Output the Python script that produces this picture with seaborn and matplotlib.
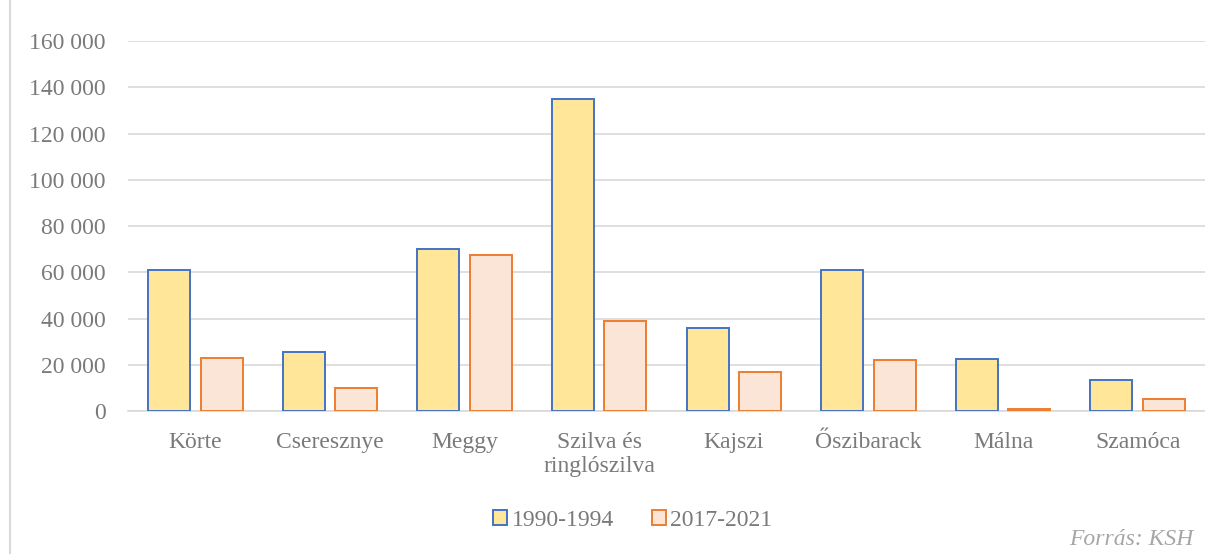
import pandas as pd
import matplotlib.pyplot as plt
import seaborn as sns
from matplotlib.lines import Line2D
from matplotlib.ticker import FuncFormatter

# --- adatok ---
gyumolcsok = ['Körte', 'Cseresznye', 'Meggy', 'Szilva és\nringlószilva',
              'Kajszi', 'Őszibarack', 'Málna', 'Szamóca']
idoszak_1 = [61000, 25500, 70000, 135000, 36000, 61000, 22500, 13500]
idoszak_2 = [22800, 10000, 67500, 39000, 17000, 22000, 700, 5000]
idoszakok = ['1990-1994', '2017-2021']

df = pd.DataFrame({
    'gyumolcs': gyumolcsok * 2,
    'ertek': idoszak_1 + idoszak_2,
    'idoszak': [idoszakok[0]] * len(gyumolcsok) + [idoszakok[1]] * len(gyumolcsok),
})

sns.set_style('white')
plt.rcParams['font.family'] = ['Liberation Serif', 'DejaVu Serif']

szurke = '#7a7a7a'
fig = plt.figure(figsize=(12.05, 5.54), dpi=100)
ax = fig.add_axes([0.1062, 0.2581, 0.8938, 0.6679])

sns.barplot(data=df, x='gyumolcs', y='ertek', hue='idoszak',
            palette=['#FFE699', '#FBE5D6'], saturation=1, width=0.78, gap=0.2,
            ax=ax, legend=False, zorder=3)

# keretszinek
szelek = ['#4472C4', '#ED7D31']
for i, patch in enumerate(ax.patches):
    patch.set_edgecolor(szelek[i // len(gyumolcsok)])
    patch.set_linewidth(1.4)

ax.set_ylim(0, 160000)
ax.set_xlim(-0.5, len(gyumolcsok) - 0.5)
ax.set_yticks(range(0, 160001, 20000))
ax.yaxis.set_major_formatter(FuncFormatter(lambda v, p: f'{int(v):,}'.replace(',', ' ')))
ax.grid(axis='y', color='#d9d9d9', linewidth=1.2, zorder=0)
ax.set_axisbelow(True)
for s in ['top', 'right', 'left']:
    ax.spines[s].set_visible(False)
ax.spines['bottom'].set_color('#d9d9d9')
ax.spines['bottom'].set_linewidth(1.2)
ax.set_xlabel('')
ax.set_ylabel('')
ax.tick_params(axis='both', length=0, labelsize=17, labelcolor=szurke)
ax.tick_params(axis='y', pad=16)
ax.tick_params(axis='x', pad=15)

# jelmagyarazat
kezelok = [plt.Rectangle((0, 0), 1, 1, facecolor='#FFE699', edgecolor='#4472C4', linewidth=1.4),
           plt.Rectangle((0, 0), 1, 1, facecolor='#FBE5D6', edgecolor='#ED7D31', linewidth=1.4)]
fig.legend(kezelok, idoszakok, loc='center', bbox_to_anchor=(0.525, 0.06),
           ncol=2, frameon=False, fontsize=17, labelcolor=szurke,
           handlelength=0.6, handleheight=0.6, handletextpad=0.2, columnspacing=1.6)

fig.text(0.99, 0.008, 'Forrás: KSH', ha='right', va='bottom', fontsize=17,
         style='italic', color='#a6a6a6')

# bal oldali keretvonal
fig.add_artist(Line2D([0.0085, 0.0085], [0, 1], color='#d9d9d9', linewidth=1.5))

fig.savefig('out.png', dpi=100)
